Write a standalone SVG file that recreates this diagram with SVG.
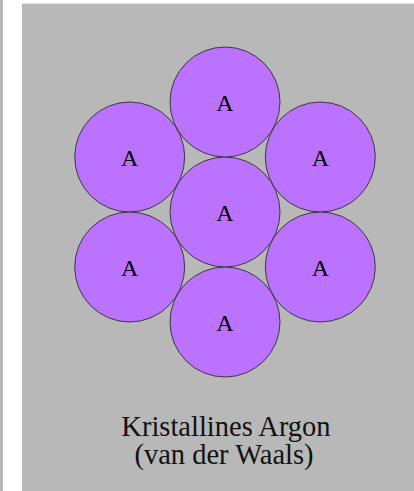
<svg xmlns="http://www.w3.org/2000/svg" width="414" height="491" viewBox="0 0 414 491">
<style>
.bg{fill:#b8b8b8}
.atom circle{fill:#bb73ff;stroke:#3a3a3a;stroke-width:1}
.atom text{font-family:"Liberation Serif",serif;font-size:24px;fill:#000;text-anchor:middle}
.cap{font-family:"Liberation Serif",serif;font-size:28.5px;fill:#111;text-anchor:middle}
</style>
<rect x="0" y="0" width="414" height="491" fill="#ffffff"/>
<rect class="bg" x="0" y="0" width="3" height="491"/>
<rect class="bg" x="22" y="4" width="392" height="487"/>
<rect x="22" y="3" width="392" height="1" fill="#e6e6e6"/>
<g id="connectors"/>
<g id="atom-center" class="atom"><circle cx="225" cy="212" r="55"/><text x="225" y="221">A</text></g>
<g id="atom-top" class="atom"><circle cx="225" cy="102" r="55"/><text x="225" y="111">A</text></g>
<g id="atom-bottom" class="atom"><circle cx="225" cy="322" r="55"/><text x="225" y="331">A</text></g>
<g id="atom-upper-left" class="atom"><circle cx="129.7" cy="157" r="55"/><text x="129.7" y="166">A</text></g>
<g id="atom-upper-right" class="atom"><circle cx="320.3" cy="157" r="55"/><text x="320.3" y="166">A</text></g>
<g id="atom-lower-left" class="atom"><circle cx="129.7" cy="267" r="55"/><text x="129.7" y="276">A</text></g>
<g id="atom-lower-right" class="atom"><circle cx="320.3" cy="267" r="55"/><text x="320.3" y="276">A</text></g>
<g id="caption">
<text class="cap" x="226" y="436">Kristallines Argon</text>
<text class="cap" x="224" y="464">(van der Waals)</text>
</g>
</svg>
